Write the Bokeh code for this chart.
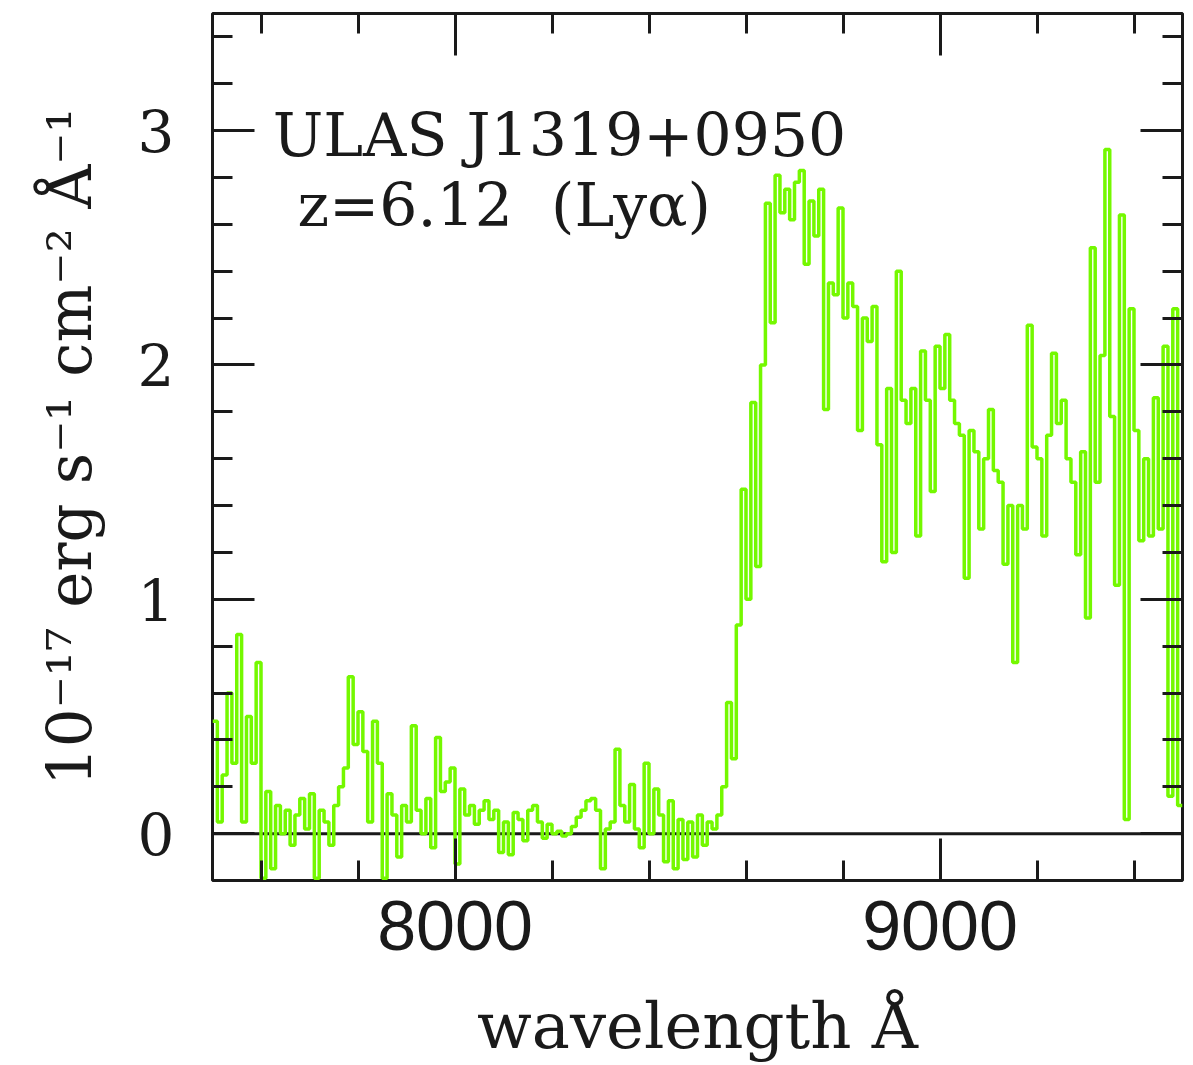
import numpy as np
from bokeh.plotting import figure
from bokeh.models import FixedTicker, LinearAxis, Span, Label
from bokeh.embed import file_html
from bokeh.resources import INLINE

# ---------------- data ----------------
WAVE_START = 7500.0   # Angstrom, left edge of first bin
BIN_WIDTH = 10.0      # Angstrom

flux = [
    0.48, 0.05, 0.25, 0.60, 0.30, 0.85, 0.05, 0.50, 0.30, 0.73,
    -0.19, 0.18, -0.15, 0.12, 0.00, 0.10, -0.05, 0.08, 0.15, 0.02,
    0.17, -0.19, 0.10, 0.05, -0.05, 0.12, 0.20, 0.28, 0.67, 0.38,
    0.52, 0.35, 0.05, 0.48, 0.30, -0.19, 0.17, 0.08, -0.10, 0.12,
    0.05, 0.46, 0.10, 0.00, 0.15, -0.06, 0.41, 0.18, 0.22, 0.28,
    -0.13, 0.19, 0.08, 0.12, 0.04, 0.10, 0.14, 0.06, 0.10, -0.08,
    0.05, -0.09, 0.09, 0.06, -0.03, 0.10, 0.12, 0.05, -0.02, 0.04,
    0.00, 0.01, -0.01, 0.00, 0.03, 0.07, 0.10, 0.14, 0.15, 0.10,
    -0.15, 0.02, 0.05, 0.36, 0.12, 0.05, 0.21, 0.02, -0.06, 0.30,
    0.00, 0.19, 0.08, -0.12, 0.14, -0.15, 0.06, -0.11, 0.05, -0.10,
    0.08, -0.05, 0.05, 0.02, 0.08, 0.20, 0.56, 0.32, 0.89, 1.47,
    1.00, 1.84, 1.14, 2.00, 2.69, 2.18, 2.81, 2.65, 2.75, 2.62,
    2.78, 2.83, 2.43, 2.70, 2.55, 2.75, 1.81, 2.35, 2.30, 2.67,
    2.20, 2.35, 2.25, 1.72, 2.20, 2.10, 2.25, 1.66, 1.16, 1.90,
    1.20, 2.40, 1.85, 1.75, 1.90, 1.27, 2.06, 1.85, 1.46, 2.08,
    1.90, 2.13, 1.85, 1.75, 1.70, 1.09, 1.72, 1.63, 1.30, 1.60,
    1.81, 1.55, 1.50, 1.15, 1.40, 0.73, 1.40, 1.30, 2.17, 1.65,
    1.60, 1.27, 1.70, 2.05, 1.75, 1.85, 1.60, 1.50, 1.19, 1.63,
    0.92, 2.50, 1.50, 2.04, 2.92, 1.78, 1.06, 2.64, 0.06, 2.24,
    1.72, 1.25, 1.60, 1.27, 1.86, 1.30, 2.08, 0.16, 2.24, 0.12,
]

x_major_ticks = [8000, 9000]
x_minor_ticks = [7600, 7800, 8200, 8400, 8600, 8800, 9200, 9400]
y_major_ticks = [0, 1, 2, 3]
y_minor_ticks = [0.2, 0.4, 0.6, 0.8, 1.2, 1.4, 1.6, 1.8,
                 2.2, 2.4, 2.6, 2.8, 3.2, 3.4]

object_name = "ULAS J1319+0950"
redshift_text = "z=6.12\u00a0\u00a0(Lyα)"
x_label = "wavelength Å"
y_label = "10⁻¹⁷ erg s⁻¹ cm⁻² Å⁻¹"

GREEN = "#74F800"
INK = "#1a1a1a"
SERIF = "DejaVu Serif"

# ---------------- figure ----------------
edges = WAVE_START + BIN_WIDTH * np.arange(len(flux) + 1)
steps = list(flux) + [flux[-1]]

p = figure(width=1193, height=1065,
           x_range=(7500, 9500), y_range=(-0.2, 3.5),
           output_backend="svg", toolbar_location=None,
           x_axis_location=None, y_axis_location=None,
           min_border_left=212, min_border_right=11,
           min_border_top=13, min_border_bottom=185)
p.background_fill_color = "white"
p.border_fill_color = "white"
p.grid.visible = False
p.outline_line_color = INK
p.outline_line_width = 3

xt = FixedTicker(ticks=x_major_ticks, minor_ticks=x_minor_ticks)
yt = FixedTicker(ticks=y_major_ticks, minor_ticks=y_minor_ticks)

bottom = LinearAxis(ticker=xt)
top = LinearAxis(ticker=xt)
left = LinearAxis(ticker=yt)
right = LinearAxis(ticker=yt)

for ax in [bottom, top, left, right]:
    ax.axis_line_color = None
    ax.major_tick_in = 42
    ax.major_tick_out = 0
    ax.minor_tick_in = 20
    ax.minor_tick_out = 0
    ax.major_tick_line_color = INK
    ax.minor_tick_line_color = INK
    ax.major_tick_line_width = 3
    ax.minor_tick_line_width = 3

for ax in [top, right]:
    ax.major_label_text_font_size = "1px"
    ax.major_label_text_color = None
    ax.major_label_standoff = 0

bottom.major_label_text_font = "Liberation Sans"
bottom.major_label_text_font_size = "70px"
bottom.major_label_text_color = INK
bottom.major_label_standoff = 20
bottom.axis_label = x_label
bottom.axis_label_text_font = SERIF
bottom.axis_label_text_font_size = "64px"
bottom.axis_label_text_font_style = "normal"
bottom.axis_label_text_color = INK
bottom.axis_label_standoff = 36

left.major_label_text_font = SERIF
left.major_label_text_font_size = "58px"
left.major_label_text_color = INK
left.major_label_standoff = 38
left.major_label_orientation = "horizontal"
left.axis_label = y_label
left.axis_label_text_font = SERIF
left.axis_label_text_font_size = "61px"
left.axis_label_text_font_style = "normal"
left.axis_label_text_color = INK
left.axis_label_standoff = 30

p.add_layout(bottom, "below")
p.add_layout(top, "above")
p.add_layout(left, "left")
p.add_layout(right, "right")

p.add_layout(Span(location=0, dimension="width", line_color=INK,
                  line_width=3, level="underlay"))

p.step(edges, steps, mode="after", line_color=GREEN, line_width=3.5)

p.add_layout(Label(x=7624, y=2.98, text=object_name, text_font=SERIF,
                   text_font_size="60px", text_color=INK,
                   text_baseline="alphabetic", text_align="left"))
p.add_layout(Label(x=7675, y=2.684, text=redshift_text, text_font=SERIF,
                   text_font_size="60px", text_color=INK,
                   text_baseline="alphabetic", text_align="left"))

open("out.html", "w").write(file_html(p, INLINE))
